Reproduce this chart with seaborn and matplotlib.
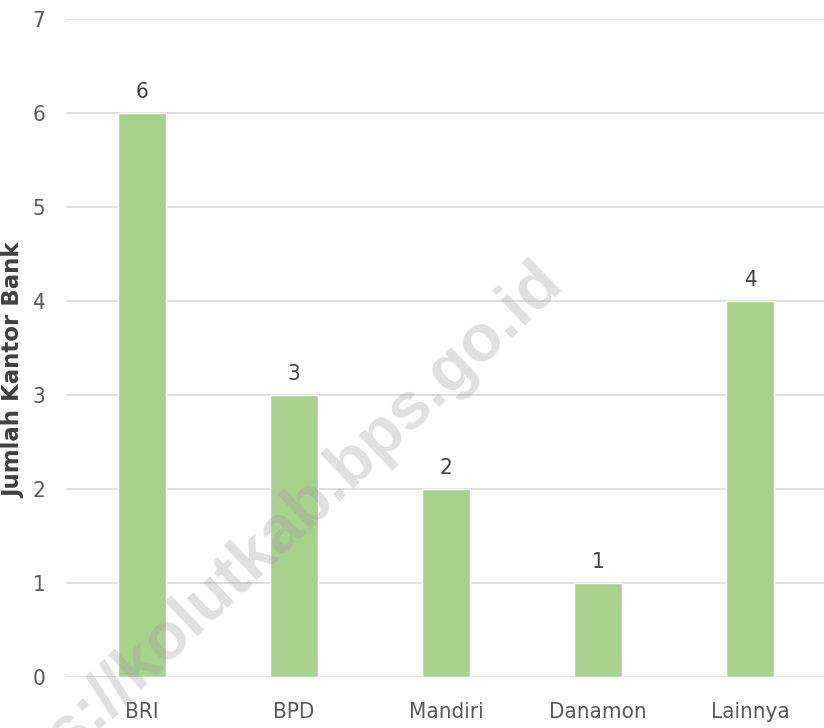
import matplotlib
matplotlib.use("Agg")
import matplotlib.pyplot as plt
import seaborn as sns
import pandas as pd

# data
bank = ["BRI", "BPD", "Mandiri", "Danamon", "Lainnya"]
jumlah = [6, 3, 2, 1, 4]

df = pd.DataFrame({"bank": bank, "jumlah": jumlah})

sns.set_theme(style="white")
plt.rcParams["font.family"] = ["DejaVu Sans"]
plt.rcParams["font.stretch"] = "condensed"

fig = plt.figure(figsize=(8.24, 7.28), dpi=100)
ax = fig.add_axes([66 / 824, 51 / 728, 760 / 824, 658 / 728])

sns.barplot(data=df, x="bank", y="jumlah", color="#a9d18e", width=0.32,
            saturation=1, ax=ax, zorder=2)

ax.set_ylim(0, 7)
ax.set_yticks(range(0, 8))
ax.yaxis.grid(True, color="#d9d9d9", linewidth=1.2, zorder=0)
ax.set_axisbelow(True)
for s in ax.spines.values():
    s.set_visible(False)

ax.tick_params(axis="both", length=0, labelsize=16, colors="#595959")
ax.tick_params(axis="x", pad=18)
ax.tick_params(axis="y", pad=15)
for t in ax.get_xticklabels() + ax.get_yticklabels():
    t.set_fontstretch("condensed")
ax.set_xlabel("")
ax.set_ylabel("Jumlah Kantor Bank", fontsize=16.5, fontweight="bold",
              fontstretch="normal", color="#404040", va="center")
ax.yaxis.set_label_coords(-52 / 760, (677 - 370) / 658)

for c in ax.containers:
    ax.bar_label(c, fontsize=16, color="#404040", padding=8,
                 fontstretch="condensed")

# watermark
fig.text(553 / 824, 1 - 272 / 728, "https://kolutkab.bps.go.id", rotation=43.5,
         rotation_mode="anchor", fontsize=48, fontweight="bold",
         color="#9a9a9a", alpha=0.3, ha="right", va="center",
         family=["Liberation Sans", "DejaVu Sans"], zorder=10)

fig.savefig("out.png", dpi=100)
